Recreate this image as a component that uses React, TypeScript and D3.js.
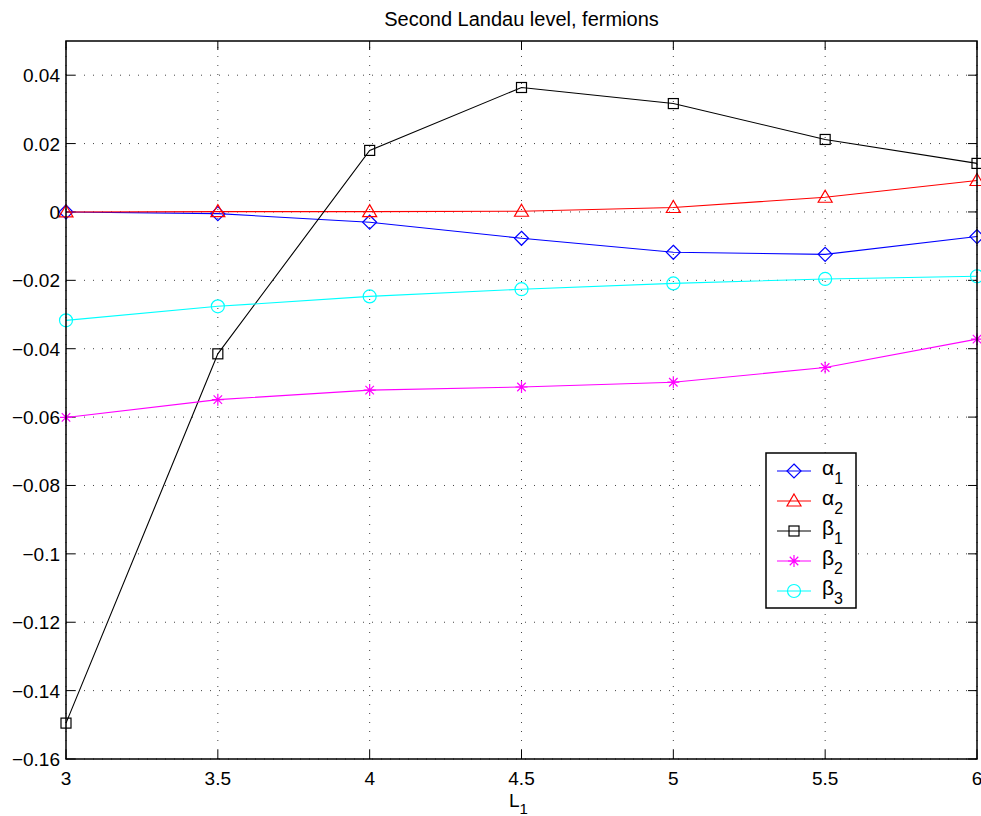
import React from 'react';
import * as d3 from 'd3';

// L1 values along the x axis
const lValues = [3, 3.5, 4, 4.5, 5, 5.5, 6];

// series
const alpha1 = [0, -0.0005, -0.003, -0.0077, -0.0118, -0.0124, -0.0072];
const alpha2 = [0, 0.0001, 0.0001, 0.0002, 0.0013, 0.0043, 0.0092];
const beta1 = [-0.1495, -0.0415, 0.018, 0.0364, 0.0317, 0.0212, 0.0142];
const beta2 = [-0.0601, -0.0549, -0.0521, -0.0512, -0.0498, -0.0455, -0.0372];
const beta3 = [-0.0317, -0.0276, -0.0247, -0.0226, -0.0209, -0.0196, -0.0188];

const xTicks = [3, 3.5, 4, 4.5, 5, 5.5, 6];
const yTicks = [0.04, 0.02, 0, -0.02, -0.04, -0.06, -0.08, -0.1, -0.12, -0.14, -0.16];

const seriesList = [
  { name: 'α', sub: '1', values: alpha1, color: '#0000ff', marker: 'diamond' },
  { name: 'α', sub: '2', values: alpha2, color: '#ff0000', marker: 'triangle' },
  { name: 'β', sub: '1', values: beta1, color: '#000000', marker: 'square' },
  { name: 'β', sub: '2', values: beta2, color: '#ff00ff', marker: 'star' },
  { name: 'β', sub: '3', values: beta3, color: '#00ffff', marker: 'circle' },
];

const width = 981;
const height = 816;
const margin = { top: 41, right: 4, bottom: 57, left: 66 };
const font = 'Liberation Sans, Arial, Helvetica, sans-serif';

const Marker = ({ kind, x, y, color }) => {
  const common = { fill: 'none', stroke: color, strokeWidth: 1.2 };
  if (kind === 'diamond') {
    return <path d={`M${x},${y - 7}L${x + 7},${y}L${x},${y + 7}L${x - 7},${y}Z`} {...common} />;
  }
  if (kind === 'triangle') {
    return <path d={`M${x},${y - 7}L${x + 7},${y + 5}L${x - 7},${y + 5}Z`} {...common} />;
  }
  if (kind === 'square') {
    return <rect x={x - 5} y={y - 5} width={10} height={10} {...common} />;
  }
  if (kind === 'circle') {
    return <circle cx={x} cy={y} r={6.5} {...common} />;
  }
  // star: plus + x
  const r = 6;
  const d = r * 0.7071;
  return (
    <path
      d={`M${x - r},${y}L${x + r},${y}M${x},${y - r}L${x},${y + r}M${x - d},${y - d}L${x + d},${y + d}M${x - d},${y + d}L${x + d},${y - d}`}
      {...common}
    />
  );
};

const App = () => {
  const x = d3.scaleLinear().domain([3, 6]).range([margin.left, width - margin.right]);
  const y = d3.scaleLinear().domain([-0.16, 0.05]).range([height - margin.bottom, margin.top]);

  const line = d3
    .line<number>()
    .x((_, i) => x(lValues[i]))
    .y(d => y(d));

  const x0 = x(3);
  const x1 = x(6);
  const y0 = y(-0.16);
  const y1 = y(0.05);
  const tick = 9;

  // legend placement
  const lg = { left: 766, top: 453, w: 90, h: 155, row: 30 };

  return (
    <svg
      width={width}
      height={height}
      style={{ position: 'absolute', left: 0, top: 0, background: '#fff' }}
      fontFamily={font}
    >
      <rect x={0} y={0} width={width} height={height} fill="#fff" />

      {/* grid */}
      {xTicks.map(t => (
        <line key={'gx' + t} x1={x(t)} x2={x(t)} y1={y0} y2={y1} stroke="#444" strokeWidth={1} strokeDasharray="1,8" />
      ))}
      {yTicks.map(t => (
        <line key={'gy' + t} x1={x0} x2={x1} y1={y(t)} y2={y(t)} stroke="#444" strokeWidth={1} strokeDasharray="1,8" />
      ))}

      {/* ticks, inward on all sides */}
      {xTicks.map(t => (
        <g key={'tx' + t} stroke="#000" strokeWidth={1}>
          <line x1={x(t)} x2={x(t)} y1={y0} y2={y0 - tick} />
          <line x1={x(t)} x2={x(t)} y1={y1} y2={y1 + tick} />
        </g>
      ))}
      {yTicks.map(t => (
        <g key={'ty' + t} stroke="#000" strokeWidth={1}>
          <line x1={x0} x2={x0 + tick} y1={y(t)} y2={y(t)} />
          <line x1={x1} x2={x1 - tick} y1={y(t)} y2={y(t)} />
        </g>
      ))}

      {/* series */}
      {seriesList.map(s => (
        <g key={s.name + s.sub}>
          <path d={line(s.values) || ''} fill="none" stroke={s.color} strokeWidth={1.1} />
          {s.values.map((v, i) => (
            <Marker key={i} kind={s.marker} x={x(lValues[i])} y={y(v)} color={s.color} />
          ))}
        </g>
      ))}

      {/* axes box */}
      <rect x={x0} y={y1} width={x1 - x0} height={y0 - y1} fill="none" stroke="#000" strokeWidth={1.5} />

      {/* tick labels */}
      {xTicks.map(t => (
        <text key={'lx' + t} x={x(t)} y={y0 + 26} fontSize={19} textAnchor="middle" fill="#000">
          {d3.format('')(t)}
        </text>
      ))}
      {yTicks.map(t => (
        <text key={'ly' + t} x={x0 - 6} y={y(t) + 7} fontSize={19} textAnchor="end" fill="#000">
          {t === 0 ? '0' : d3.format('')(t).replace('-', '–')}
        </text>
      ))}

      {/* title and axis label */}
      <text x={(x0 + x1) / 2} y={26} fontSize={20} textAnchor="middle" fill="#000">
        Second Landau level, fermions
      </text>
      <text x={(x0 + x1) / 2 - 3} y={y0 + 48} fontSize={19} textAnchor="middle" fill="#000">
        L<tspan fontSize={15} dy={7}>1</tspan>
      </text>

      {/* legend */}
      <rect x={lg.left} y={lg.top} width={lg.w} height={lg.h} fill="#fff" stroke="#000" strokeWidth={1.5} />
      {seriesList.map((s, i) => {
        const cy = lg.top + 18 + i * lg.row;
        return (
          <g key={'lg' + i}>
            <line x1={lg.left + 11} x2={lg.left + 45} y1={cy} y2={cy} stroke={s.color} strokeWidth={1.2} />
            <Marker kind={s.marker} x={lg.left + 28} y={cy} color={s.color} />
            <text x={lg.left + 56} y={cy + 4} fontSize={21} fill="#000">
              {s.name}
              <tspan fontSize={16} dy={9}>{s.sub}</tspan>
            </text>
          </g>
        );
      })}
    </svg>
  );
};

export default App;
